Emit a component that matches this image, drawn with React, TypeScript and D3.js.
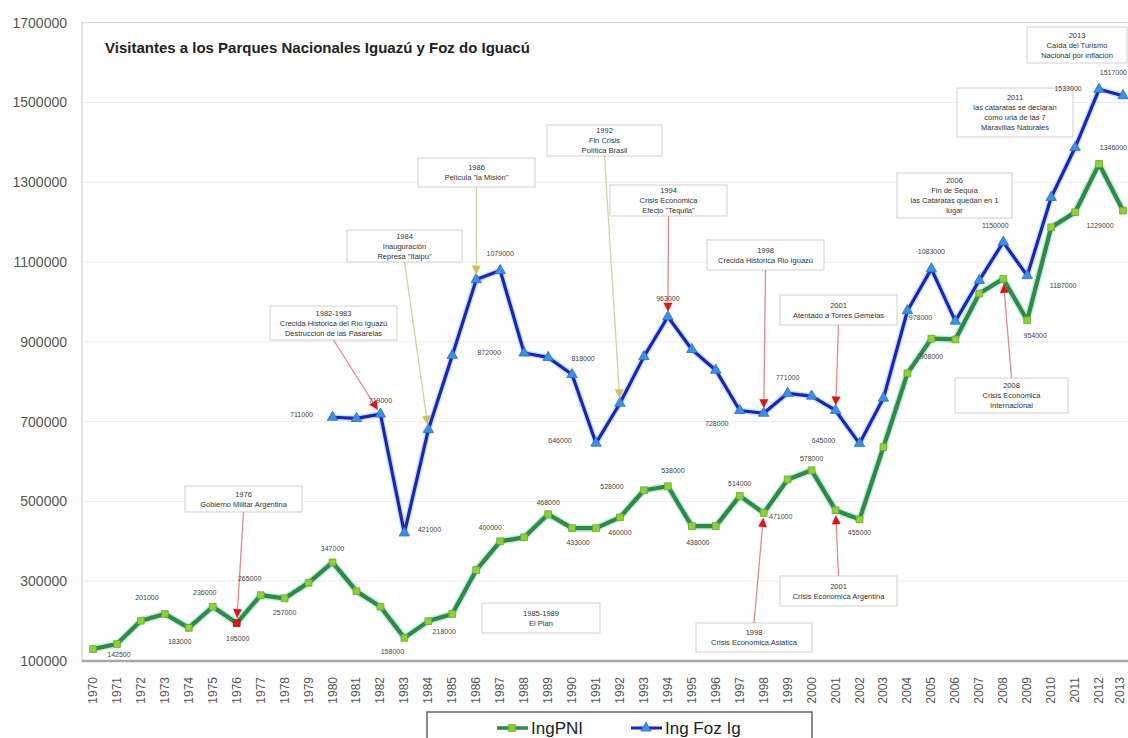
import * as d3 from "d3";

// categorias (años)
const years = [
  1970, 1971, 1972, 1973, 1974, 1975, 1976, 1977, 1978, 1979,
  1980, 1981, 1982, 1983, 1984, 1985, 1986, 1987, 1988, 1989,
  1990, 1991, 1992, 1993, 1994, 1995, 1996, 1997, 1998, 1999,
  2000, 2001, 2002, 2003, 2004, 2005, 2006, 2007, 2008, 2009,
  2010, 2011, 2012, 2013,
];

// Ingresos Parque Nacional Iguazú
const ingPNI = [
  130000, 142500, 201000, 218000, 183000, 236000, 195000, 265000, 257000, 296000,
  347000, 275000, 236000, 158000, 200000, 218000, 328000, 400000, 410000, 468000,
  433000, 433000, 460000, 528000, 538000, 438000, 438000, 514000, 471000, 555000,
  578000, 478000, 455000, 636000, 821000, 908000, 906000, 1021000, 1058000, 954000,
  1187000, 1225000, 1346000, 1229000,
];

// Ingresos Foz do Iguaçu (sin datos antes de 1980)
const ingFoz: (number | null)[] = [
  null, null, null, null, null, null, null, null, null, null,
  711000, 708000, 719000, 421000, 680000, 866000, 1056000, 1079000, 872000, 861000,
  818000, 646000, 746000, 863000, 963000, 881000, 829000, 728000, 721000, 771000,
  764000, 728000, 645000, 759000, 978000, 1083000, 952000, 1054000, 1150000, 1066000,
  1262000, 1387000, 1533000, 1517000,
];

const yTicks = [100000, 300000, 500000, 700000, 900000, 1100000, 1300000, 1500000, 1700000];

const seriesNames = ["IngPNI", "Ing Foz Ig"];

// etiquetas de valores: año + desplazamiento
const pniLabels = [
  { year: 1971, dx: 2, dy: 11 }, { year: 1972, dx: 6, dy: -23 }, { year: 1974, dx: -9, dy: 14 },
  { year: 1975, dx: -8, dy: -14 }, { year: 1976, dx: 1, dy: 15 }, { year: 1977, dx: -11, dy: -17 },
  { year: 1978, dx: 0, dy: 14 }, { year: 1980, dx: 0, dy: -14 }, { year: 1983, dx: -12, dy: 14 },
  { year: 1985, dx: -8, dy: 18 }, { year: 1987, dx: -10, dy: -14 }, { year: 1989, dx: 0, dy: -12 },
  { year: 1990, dx: 6, dy: 14 }, { year: 1992, dx: 0, dy: 15 }, { year: 1993, dx: -32, dy: -4 },
  { year: 1994, dx: 5, dy: -16 }, { year: 1995, dx: 6, dy: 16 }, { year: 1997, dx: 0, dy: -12 },
  { year: 1998, dx: 17, dy: 4 }, { year: 2000, dx: 0, dy: -12 }, { year: 2002, dx: 0, dy: 13 },
  { year: 2005, dx: 0, dy: 18 }, { year: 2009, dx: 8, dy: 15 }, { year: 2010, dx: 12, dy: 58 },
  { year: 2012, dx: 24, dy: -16 }, { year: 2013, dx: -23, dy: 15 },
];
const fozLabels = [
  { year: 1980, dx: -31, dy: -3 }, { year: 1982, dx: 0, dy: -14 }, { year: 1983, dx: 25, dy: -3 },
  { year: 1987, dx: 0, dy: -17 }, { year: 1988, dx: -35, dy: 0 }, { year: 1990, dx: 11, dy: -16 },
  { year: 1991, dx: -36, dy: -3 }, { year: 1994, dx: 0, dy: -18 }, { year: 1997, dx: -23, dy: 13 },
  { year: 1999, dx: 0, dy: -16 }, { year: 2002, dx: -36, dy: -3 }, { year: 2004, dx: 13, dy: 7 },
  { year: 2005, dx: 0, dy: -17 }, { year: 2008, dx: -8, dy: -17 }, { year: 2012, dx: -31, dy: -1 },
  { year: 2013, dx: 0, dy: -23 },
];

// cuadros de texto (posición en px)
type Note = {
  lines: string[];
  box: [number, number, number, number];
  year?: number;
  series?: "pni" | "foz";
  tone?: "red" | "yellow";
};
const notes: Note[] = [
  { lines: ["1976", "Gobierno Militar Argentina"], box: [185, 486, 117, 26], year: 1976, series: "pni", tone: "red" },
  { lines: ["1982-1983", "Crecida Historica del Río Iguazú", "Destruccion de las Pasarelas"], box: [270, 306, 127, 34], year: 1982, series: "foz", tone: "red" },
  { lines: ["1984", "Inauguración", "Represa \"Itaipu\""], box: [347, 230, 115, 32], year: 1984, series: "foz", tone: "yellow" },
  { lines: ["1986", "Película \"la Misión\""], box: [418, 158, 117, 29], year: 1986, series: "foz", tone: "yellow" },
  { lines: ["1992", "Fin Crisis", "Política Brasil"], box: [547, 125, 115, 31], year: 1992, series: "foz", tone: "yellow" },
  { lines: ["1994", "Crisis Economica", "Efecto \"Tequila\""], box: [610, 185, 117, 31], year: 1994, series: "foz", tone: "red" },
  { lines: ["1998", "Crecida Historica Rio Iguazú"], box: [707, 240, 117, 30], year: 1998, series: "foz", tone: "red" },
  { lines: ["2001", "Atentado a Torres Gemelas"], box: [780, 295, 117, 30], year: 2001, series: "foz", tone: "red" },
  { lines: ["2006", "Fin de Sequía", "las Cataratas quedan en 1", "lugar"], box: [897, 173, 115, 45] },
  { lines: ["2011", "las cataratas se declaran", "como una de las 7", "Maravillas Naturales"], box: [957, 88, 116, 49] },
  { lines: ["2013", "Caída del Turismo", "Nacional por inflación"], box: [1027, 27, 100, 36] },
  { lines: ["2008", "Crisis Economica", "Internacional"], box: [955, 378, 113, 35], year: 2008, series: "pni", tone: "red" },
  { lines: ["1998", "Crisis Economica Asiatica"], box: [696, 623, 116, 29], year: 1998, series: "pni", tone: "red" },
  { lines: ["2001", "Crisis Economica Argentina"], box: [780, 576, 117, 30], year: 2001, series: "pni", tone: "red" },
  { lines: ["1985-1989", "El Plan"], box: [482, 603, 118, 30] },
];

const W = 1128;
const H = 738;
const FONT = "'Liberation Sans', Arial, sans-serif";

const x = d3.scaleBand<number>().domain(years).range([81, 1135]);
const cx = (yr: number) => (x(yr) ?? 0) + x.bandwidth() / 2;
const y = d3.scaleLinear().domain([100000, 1700000]).range([661, 22.7]);

const lineGen = d3
  .line<[number, number | null]>()
  .defined((d) => d[1] != null)
  .x((d) => cx(d[0]))
  .y((d) => y(d[1] as number));

const pniPts = years.map((yr, i) => [yr, ingPNI[i]] as [number, number | null]);
const fozPts = years.map((yr, i) => [yr, ingFoz[i]] as [number, number | null]);

const square = d3.symbol(d3.symbolSquare, 46)()!;
const triangle = d3.symbol(d3.symbolTriangle, 48)()!;

const tones = {
  red: { line: "#e08a8a", head: "#e01515" },
  yellow: { line: "#d2d2a0", head: "#cbc35a" },
};

function valueOf(series: "pni" | "foz", yr: number) {
  const i = years.indexOf(yr);
  return series === "pni" ? ingPNI[i] : (ingFoz[i] as number);
}

const Arrow = ({ n }: { n: Note }) => {
  if (!n.year || !n.series || !n.tone) return null;
  const [bx, by, bw, bh] = n.box;
  const tx = cx(n.year);
  const ty = y(valueOf(n.series, n.year));
  const sx = bx + bw / 2;
  const sy = by + bh / 2 < ty ? by + bh : by;
  const ang = Math.atan2(ty - sy, tx - sx);
  const len = Math.hypot(tx - sx, ty - sy) - 5;
  const ex = sx + Math.cos(ang) * len;
  const ey = sy + Math.sin(ang) * len;
  const c = tones[n.tone];
  const deg = (ang * 180) / Math.PI;
  return (
    <g>
      <line x1={sx} y1={sy} x2={ex} y2={ey} stroke={c.line} strokeWidth={1.3} />
      <polygon
        points="0,0 -9,-4.5 -9,4.5"
        fill={c.head}
        transform={`translate(${ex},${ey}) rotate(${deg})`}
      />
    </g>
  );
};

// etiqueta de valor, sin salirse del borde derecho
const ValueLabel = ({ px, py, v }: { px: number; py: number; v: number }) => {
  const half = 13;
  const right = px + half > W - 1;
  return (
    <text
      x={right ? W - 1 : px}
      y={py}
      dy="0.35em"
      textAnchor={right ? "end" : "middle"}
      fontSize={7}
      fill="#444"
    >
      {v}
    </text>
  );
};

export default function App() {
  return (
    <svg
      width={W}
      height={H}
      style={{ position: "absolute", left: 0, top: 0, background: "#fff" }}
      fontFamily={FONT}
    >
      {/* rejilla */}
      {yTicks.map((t) => (
        <g key={t}>
          <line x1={82} x2={W} y1={y(t)} y2={y(t)} stroke={t === 1700000 ? "#cfcfcf" : "#ececec"} strokeWidth={1} />
          <text x={67} y={y(t)} dy="0.35em" textAnchor="end" fontSize={14} fill="#555">
            {t}
          </text>
        </g>
      ))}
      <line x1={82} x2={82} y1={22} y2={662} stroke="#c8c8c8" strokeWidth={1} />
      <line x1={82} x2={W} y1={661} y2={661} stroke="#a8a8a8" strokeWidth={2.5} />

      {/* etiquetas eje x */}
      {years.map((yr) => (
        <text
          key={yr}
          transform={`translate(${Math.min(cx(yr) + 4, 1124)},${677}) rotate(-90)`}
          textAnchor="end"
          fontSize={12}
          fill="#555"
        >
          {yr}
        </text>
      ))}

      {/* título */}
      <text x={105} y={53} fontSize={15} fontWeight="bold" fill="#222">
        Visitantes a los Parques Nacionales Iguazú y Foz do Iguacú
      </text>

      {/* cuadros */}
      {notes.map((n, i) => {
        const [bx, by, bw, bh] = n.box;
        const step = 10;
        const top = by + bh / 2 - ((n.lines.length - 1) * step) / 2;
        return (
          <g key={i}>
            <rect x={bx} y={by} width={bw} height={bh} fill="#fff" stroke="#cfcfcf" strokeWidth={1} />
            {n.lines.map((l, j) => (
              <text key={j} x={bx + bw / 2} y={top + j * step} dy="0.35em" textAnchor="middle" fontSize={7.5} fill="#333">
                {l}
              </text>
            ))}
          </g>
        );
      })}

      {/* líneas */}
      <path d={lineGen(fozPts) ?? ""} fill="none" stroke="#bfe6f2" strokeWidth={6} strokeLinejoin="round" />
      <path d={lineGen(fozPts) ?? ""} fill="none" stroke="#2121b8" strokeWidth={3.2} strokeLinejoin="round" />
      <path d={lineGen(pniPts) ?? ""} fill="none" stroke="#bfeadf" strokeWidth={7} strokeLinejoin="round" />
      <path d={lineGen(pniPts) ?? ""} fill="none" stroke="#2f8a45" strokeWidth={4.2} strokeLinejoin="round" />

      {/* marcadores */}
      {fozPts
        .filter((d) => d[1] != null)
        .map((d) => (
          <path key={d[0]} d={triangle} transform={`translate(${cx(d[0])},${y(d[1] as number)})`} fill="#3f8fe0" stroke="#2a6fc8" strokeWidth={0.8} />
        ))}
      {pniPts.map((d) => (
        <path
          key={d[0]}
          d={square}
          transform={`translate(${cx(d[0])},${y(d[1] as number)})`}
          fill={d[0] === 1976 ? "#d81818" : "#8fcf3c"}
          stroke={d[0] === 1976 ? "#b01010" : "#6aa82a"}
          strokeWidth={0.8}
        />
      ))}

      {/* flechas */}
      {notes.map((n, i) => (
        <Arrow key={i} n={n} />
      ))}

      {/* etiquetas de valores */}
      {pniLabels.map((l) => (
        <ValueLabel key={"p" + l.year} px={cx(l.year) + l.dx} py={y(valueOf("pni", l.year)) + l.dy} v={valueOf("pni", l.year)} />
      ))}
      {fozLabels.map((l) => (
        <ValueLabel key={"f" + l.year} px={cx(l.year) + l.dx} py={y(valueOf("foz", l.year)) + l.dy} v={valueOf("foz", l.year)} />
      ))}

      {/* leyenda */}
      <rect x={427} y={712} width={385} height={40} fill="#fff" stroke="#666" strokeWidth={1.5} />
      <line x1={497} x2={528} y1={728} y2={728} stroke="#2f8a45" strokeWidth={3.5} />
      <path d={square} transform="translate(512,728)" fill="#8fcf3c" stroke="#6aa82a" strokeWidth={0.8} />
      <text x={531} y={728} dy="0.35em" fontSize={17} fill="#222">
        {seriesNames[0]}
      </text>
      <line x1={631} x2={662} y1={728} y2={728} stroke="#2121b8" strokeWidth={3} />
      <path d={triangle} transform="translate(646,728)" fill="#3f8fe0" stroke="#2a6fc8" strokeWidth={0.8} />
      <text x={665} y={728} dy="0.35em" fontSize={17} fill="#222">
        {seriesNames[1]}
      </text>
    </svg>
  );
}
